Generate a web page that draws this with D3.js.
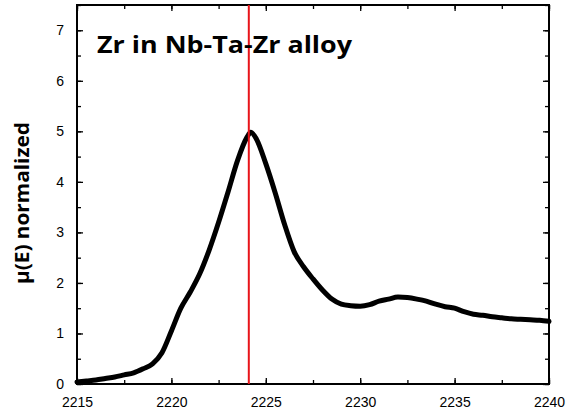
<!DOCTYPE html>
<html>
<head>
<meta charset="utf-8">
<script src="https://cdnjs.cloudflare.com/ajax/libs/d3/7.8.5/d3.min.js"></script>
<style>
  body { margin: 0; background: #fff; }
  #graph { width: 568px; height: 411px; }
</style>
</head>
<body>
<div id="graph"></div>
<script>
// spectrum values
let energies = [2215.0, 2215.5, 2216.0, 2216.5, 2217.0, 2217.5, 2218.0, 2218.5, 2219.0, 2219.5,
                2220.0, 2220.5, 2221.0, 2221.5, 2222.0, 2222.5, 2223.0, 2223.5, 2224.0, 2224.2,
                2224.5, 2225.0, 2225.5, 2226.0, 2226.5, 2227.0, 2227.5, 2228.0, 2228.5, 2229.0,
                2229.5, 2230.0, 2230.5, 2231.0, 2231.5, 2232.0, 2232.5, 2233.0, 2233.5, 2234.0,
                2234.5, 2235.0, 2235.5, 2236.0, 2236.5, 2237.0, 2237.5, 2238.0, 2238.5, 2239.0,
                2239.5, 2240.0];
let muNorm = [0.04, 0.06, 0.08, 0.11, 0.14, 0.18, 0.22, 0.30, 0.40, 0.62,
              1.05, 1.50, 1.82, 2.18, 2.65, 3.20, 3.80, 4.42, 4.88, 4.98,
              4.85, 4.36, 3.78, 3.15, 2.62, 2.32, 2.08, 1.86, 1.68, 1.58,
              1.55, 1.54, 1.57, 1.64, 1.68, 1.72, 1.71, 1.68, 1.64, 1.58,
              1.53, 1.50, 1.43, 1.38, 1.36, 1.33, 1.31, 1.29, 1.28, 1.27,
              1.26, 1.24];
let markerEnergy = 2224.1;
let xTicks = [2215, 2220, 2225, 2230, 2235, 2240];
let yTicks = [0, 1, 2, 3, 4, 5, 6, 7];
let titleText = 'Zr in Nb-Ta-Zr alloy';
let yLabel = 'μ(E) normalized';

drawChart();

function drawChart() {
  let svg = d3.select('#graph').append('svg')
              .attr('width', 568)
              .attr('height', 411);
  let margin = {top: 5, right: 19, bottom: 27, left: 77},
      width = 568 - margin.left - margin.right,
      height = 411 - margin.top - margin.bottom;

  let xScale = d3.scaleLinear()
                .domain([2215, 2240])
                .range([0, width]);
  let yScale = d3.scaleLinear()
                .domain([0, 7.5])
                .range([height, 0]);

  let g = svg.append('g')
             .attr('transform', 'translate(' + margin.left + ',' + margin.top + ')');

  let fontTicks = '"Liberation Sans", Arial, sans-serif';
  let minorX = d3.range(2215, 2240.01, 2.5);
  let minorY = d3.range(0, 7.51, 0.5);

  // axes: major ticks with labels, minor ticks inside
  function styleAxis(sel) {
    sel.select('.domain').remove();
    sel.selectAll('line').attr('stroke', '#000').attr('stroke-width', 1.3);
    sel.selectAll('text').attr('font-family', fontTicks).attr('font-size', 14).attr('fill', '#000');
  }

  g.append('g')
     .attr('transform', 'translate(0,' + height + ')')
     .call(d3.axisBottom(xScale).tickValues(minorX).tickSize(-4).tickFormat(''))
     .call(styleAxis);
  g.append('g')
     .attr('transform', 'translate(0,' + height + ')')
     .call(d3.axisBottom(xScale).tickValues(xTicks).tickSize(-6).tickPadding(13).tickFormat(d3.format('d')))
     .call(styleAxis);
  g.append('g')
     .call(d3.axisTop(xScale).tickValues(minorX).tickSize(-4).tickFormat(''))
     .call(styleAxis);
  g.append('g')
     .call(d3.axisTop(xScale).tickValues(xTicks).tickSize(-6).tickFormat(''))
     .call(styleAxis);

  g.append('g')
     .call(d3.axisLeft(yScale).tickValues(minorY).tickSize(-4).tickFormat(''))
     .call(styleAxis);
  g.append('g')
     .call(d3.axisLeft(yScale).tickValues(yTicks).tickSize(-6).tickPadding(13).tickFormat(d3.format('d')))
     .call(styleAxis);
  g.append('g')
     .attr('transform', 'translate(' + width + ',0)')
     .call(d3.axisRight(yScale).tickValues(minorY).tickSize(-4).tickFormat(''))
     .call(styleAxis);
  g.append('g')
     .attr('transform', 'translate(' + width + ',0)')
     .call(d3.axisRight(yScale).tickValues(yTicks).tickSize(-6).tickFormat(''))
     .call(styleAxis);

  // frame
  g.append('rect')
     .attr('width', width)
     .attr('height', height)
     .attr('fill', 'none')
     .attr('stroke', '#000')
     .attr('stroke-width', 2);

  // spectrum
  let points = energies.map((e, i) => [e, muNorm[i]]);
  let line = d3.line()
               .x((d) => xScale(d[0]))
               .y((d) => yScale(d[1]))
               .curve(d3.curveMonotoneX);
  g.append('path')
     .datum(points)
     .attr('d', line)
     .attr('fill', 'none')
     .attr('stroke', '#000')
     .attr('stroke-width', 5)
     .attr('stroke-linejoin', 'round')
     .attr('stroke-linecap', 'round');

  // white-line marker
  g.append('line')
     .attr('x1', xScale(markerEnergy))
     .attr('x2', xScale(markerEnergy))
     .attr('y1', 0)
     .attr('y2', height)
     .attr('stroke', '#e8141a')
     .attr('stroke-width', 2);

  // title
  g.append('text')
     .attr('x', 20)
     .attr('y', 48)
     .attr('font-family', '"Open Sans", sans-serif')
     .attr('font-weight', 'bold')
     .attr('font-size', 24)
     .attr('textLength', 255)
     .attr('lengthAdjust', 'spacingAndGlyphs')
     .text(titleText);

  // y axis label
  svg.append('text')
     .attr('transform', 'translate(29,' + 203 + ') rotate(-90)')
     .attr('text-anchor', 'middle')
     .attr('font-family', '"Open Sans", sans-serif')
     .attr('font-weight', 'bold')
     .attr('font-size', 20)
     .attr('textLength', 162)
     .attr('lengthAdjust', 'spacingAndGlyphs')
     .text(yLabel);
}
</script>
</body>
</html>
